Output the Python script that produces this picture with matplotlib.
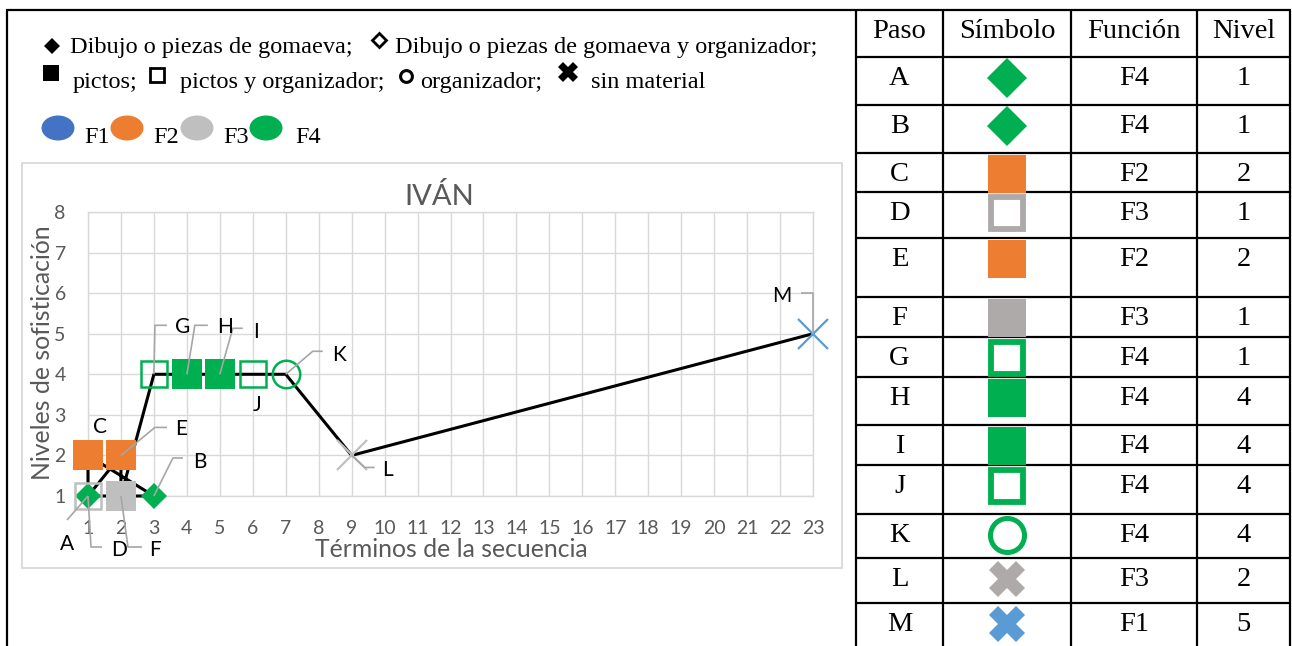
import matplotlib
matplotlib.use('Agg')
import matplotlib.pyplot as plt
from matplotlib.patches import Ellipse, Rectangle

# ---------------- data ----------------
pasos = ['A', 'B', 'C', 'D', 'E', 'F', 'G', 'H', 'I', 'J', 'K', 'L', 'M']
terminos = [1, 3, 1, 1, 2, 2, 3, 4, 5, 6, 7, 9, 23]
niveles = [1, 1, 2, 1, 2, 1, 4, 4, 4, 4, 4, 2, 5]
materiales = ['gomaeva', 'gomaeva', 'pictos', 'pictos_org', 'pictos', 'pictos',
              'pictos_org', 'pictos', 'pictos', 'pictos_org', 'organizador', 'sin', 'sin']
funciones = ['F4', 'F4', 'F2', 'F3', 'F2', 'F3', 'F4', 'F4', 'F4', 'F4', 'F4', 'F3', 'F1']
nivel_tabla = ['1', '1', '2', '1', '2', '1', '1', '4', '4', '4', '4', '2', '5']
x_ticks = list(range(1, 24))
y_ticks = list(range(1, 9))
titulo = 'IVÁN'
x_titulo = 'Términos de la secuencia'
y_titulo = 'Niveles de sofisticación'
cabeceras = ['Paso', 'Símbolo', 'Función', 'Nivel']
leyenda_func = ['F1', 'F2', 'F3', 'F4']

# ---------------- styles ----------------
chart_col = {'F1': '#5B9BD5', 'F2': '#ED7D31', 'F3': '#BFBFBF', 'F4': '#00B050'}
table_col = {'F1': '#5B9BD5', 'F2': '#ED7D31', 'F3': '#AEAAAA', 'F4': '#00B050'}
legend_col = {'F1': '#4472C4', 'F2': '#ED7D31', 'F3': '#BFBFBF', 'F4': '#00B050'}

chart_mk = {
    'gomaeva': dict(marker='D', ms=13.7, fill=True, mew=0),
    'pictos': dict(marker='s', ms=21.0, fill=True, mew=0),
    'pictos_org': dict(marker='s', ms=19.2, fill=False, mew=1.8),
    'organizador': dict(marker='o', ms=19.8, fill=False, mew=1.8),
    'sin': dict(marker='x', ms=22.0, fill=True, mew=1.6),
}
table_mk = {
    'gomaeva': dict(marker='D', ms=20.4, fill=True, mew=0),
    'pictos': dict(marker='s', ms=27.0, fill=True, mew=0),
    'pictos_org': dict(marker='s', ms=23.0, fill=False, mew=4.2),
    'organizador': dict(marker='o', ms=24.5, fill=False, mew=3.6),
    'sin': dict(marker='X', ms=26.0, fill=True, mew=0),
}

# label layout: (label dx, label dy, leader polyline offsets) in pixels (y down)
label_layout = {
    'A': (-21, 47, [(0, 0), (-21, 24)]),
    'B': (46, -36, [(0, 0), (19, -38), (29, -38)]),
    'C': (12, -30, None),
    'D': (31, 52, [(0, 0), (3, 51), (14, 51)]),
    'E': (60, -28, [(0, 0), (34, -28), (46, -28)]),
    'F': (34, 52, [(0, 0), (7, 51), (21, 51)]),
    'G': (29, -49, [(0, 0), (1, -49), (13, -49)]),
    'H': (38, -49, [(0, 0), (8, -49), (21, -49)]),
    'I': (36, -44, [(0, 0), (13, -46), (23, -46)]),
    'J': (4, 29, None),
    'K': (53, -21, [(0, 0), (27, -23), (37, -23)]),
    'L': (36, 13, [(0, 0), (13, 12), (23, 12)]),
    'M': (-31, -39, [(0, 0), (0, -41), (-12, -41)]),
}

W, H = 1292, 646
AX_L, AX_R, AX_T, AX_B = 88, 813, 212, 496
SANS = 'Lato'
SERIF = 'Liberation Serif'
GREY_TXT = '#595959'

fig = plt.figure(figsize=(W / 100, H / 100), dpi=100)
fig.patch.set_facecolor('white')

ax = fig.add_axes([AX_L / W, 1 - AX_B / H, (AX_R - AX_L) / W, (AX_B - AX_T) / H], zorder=2)
ov = fig.add_axes([0, 0, 1, 1], zorder=5)
ov.set_xlim(0, W)
ov.set_ylim(H, 0)
ov.axis('off')

# ---------------- chart ----------------
ax.set_xlim(x_ticks[0], x_ticks[-1])
ax.set_ylim(y_ticks[0], y_ticks[-1])
ax.set_xticks(x_ticks)
ax.set_yticks(y_ticks)
ax.grid(True, color='#D9D9D9', lw=1.0, zorder=0)
ax.set_axisbelow(True)
for s in ax.spines.values():
    s.set_color('#D9D9D9')
    s.set_linewidth(1.0)
ax.tick_params(length=0, labelsize=14, colors=GREY_TXT)
ax.tick_params(axis='x', pad=17)
ax.tick_params(axis='y', pad=16)
for lab in ax.get_xticklabels() + ax.get_yticklabels():
    lab.set_fontfamily(SANS)

ax.plot(terminos, niveles, color='black', lw=2.2, zorder=3, clip_on=False)
for x, y, mat, fn in zip(terminos, niveles, materiales, funciones):
    st = chart_mk[mat]
    c = chart_col[fn]
    ax.plot([x], [y], linestyle='none', marker=st['marker'], ms=st['ms'],
            mfc=c if st['fill'] else 'none', mec=c, mew=st['mew'] if st['mew'] else 0.01,
            zorder=4, clip_on=False)

# labels with leader lines
for p, x, y in zip(pasos, terminos, niveles):
    px, py = ax.transData.transform((x, y))
    py = H - py
    ldx, ldy, leader = label_layout[p]
    if leader:
        ov.plot([px + dx for dx, dy in leader], [py + dy for dx, dy in leader],
                color='#A6A6A6', lw=1.2, zorder=6, solid_capstyle='butt')
    ov.text(px + ldx, py + ldy + 7.5, p, fontsize=15, family=SANS, color='black',
            ha='center', va='baseline', zorder=7)

ov.text(439, 205, titulo, fontsize=21, family=SANS, color=GREY_TXT, ha='center', va='baseline')
ov.text(451, 557, x_titulo, fontsize=17.8, family=SANS, color=GREY_TXT, ha='center', va='baseline')
ov.text(43, 353, y_titulo, fontsize=17.8, family=SANS, color=GREY_TXT, ha='center', va='center',
        rotation=90)
ov.add_patch(Rectangle((22, 163), 820, 405, fill=False, edgecolor='#D9D9D9', lw=1.3, zorder=1))

# ---------------- top legend ----------------
FS_LEG = 17.5
ov.plot([52], [46], marker='D', ms=8.0, color='black', mew=0)
ov.text(70, 53, 'Dibujo o piezas de gomaeva;', fontsize=FS_LEG, family=SERIF, va='baseline')
ov.plot([379], [40], marker='D', ms=7.2, mfc='none', mec='black', mew=2.0)
ov.text(395, 53, 'Dibujo o piezas de gomaeva y organizador;', fontsize=FS_LEG, family=SERIF,
        va='baseline')
ov.plot([51], [73], marker='s', ms=12.0, color='black', mew=0)
ov.text(73, 88, 'pictos;', fontsize=FS_LEG, family=SERIF, va='baseline')
ov.plot([157], [75], marker='s', ms=9.5, mfc='none', mec='black', mew=2.0)
ov.text(180, 88, 'pictos y organizador;', fontsize=FS_LEG, family=SERIF, va='baseline')
ov.plot([406], [76], marker='o', ms=8.5, mfc='none', mec='black', mew=2.2)
ov.text(420, 88, 'organizador;', fontsize=FS_LEG, family=SERIF, va='baseline')
ov.plot([568], [72], marker='X', ms=15.0, color='black', mew=0)
ov.text(591, 88, 'sin material', fontsize=FS_LEG, family=SERIF, va='baseline')

ell_x = [58, 127, 197, 266]
txt_x = [84, 153, 223, 295]
for f, ex, tx in zip(leyenda_func, ell_x, txt_x):
    ov.add_patch(Ellipse((ex, 128), 33, 25, facecolor=legend_col[f], edgecolor='none'))
    ov.text(tx, 143, f, fontsize=FS_LEG, family=SERIF, va='baseline')

# ---------------- frame & table ----------------
LW = 1.6
col_edges = [856, 943, 1071, 1197, 1290]
row_edges = [10, 57, 105, 153, 192, 238, 297, 337, 377, 425, 465, 514, 558, 603]
ov.plot([6, 1291], [10, 10], color='black', lw=LW, solid_capstyle='butt')
ov.plot([7, 7], [10, H], color='black', lw=LW, solid_capstyle='butt')
for cx in col_edges:
    ov.plot([cx, cx], [10, H], color='black', lw=LW, solid_capstyle='butt')
for ry in row_edges[1:]:
    ov.plot([col_edges[0], col_edges[-1] + 1], [ry, ry], color='black', lw=LW,
            solid_capstyle='butt')

col_cx = [(a + b) / 2 for a, b in zip(col_edges[:-1], col_edges[1:])]
FS_TAB = 20.5
for cx, h in zip(col_cx, cabeceras):
    ov.text(cx, row_edges[0] + 28, h, fontsize=FS_TAB, family=SERIF, ha='center', va='baseline')
for i, (p, mat, fn, nv) in enumerate(zip(pasos, materiales, funciones, nivel_tabla)):
    top = row_edges[i + 1]
    ov.text(col_cx[0], top + 28, p, fontsize=FS_TAB, family=SERIF, ha='center', va='baseline')
    ov.text(col_cx[2], top + 28, fn, fontsize=FS_TAB, family=SERIF, ha='center', va='baseline')
    ov.text(col_cx[3], top + 28, nv, fontsize=FS_TAB, family=SERIF, ha='center', va='baseline')
    st = table_mk[mat]
    c = table_col[fn]
    ov.plot([col_cx[1]], [top + 21], linestyle='none', marker=st['marker'], ms=st['ms'],
            mfc=c if st['fill'] else 'none', mec=c, mew=st['mew'] if st['mew'] else 0.01)

fig.savefig('out.png', dpi=100, facecolor='white')
